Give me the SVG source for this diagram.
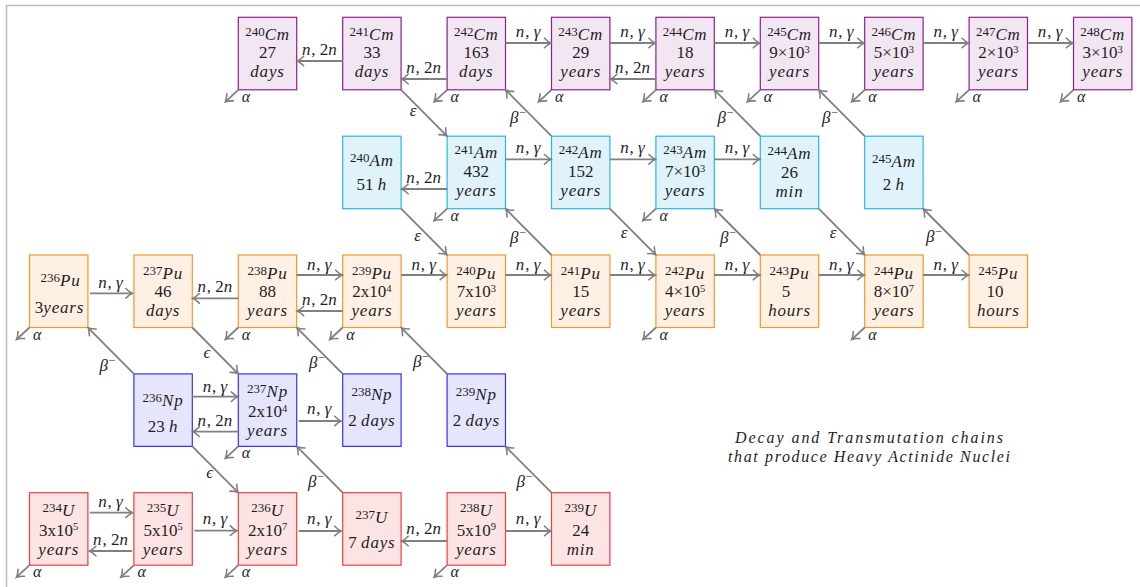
<svg xmlns="http://www.w3.org/2000/svg" width="1140" height="587" viewBox="0 0 1140 587">
<style>
text{font-family:"Liberation Serif","DejaVu Serif",serif;fill:#1e1e1e}
.t{font-size:17px;text-anchor:middle}
.i{font-style:italic;letter-spacing:0.8px}
.ms{font-size:13px;font-style:normal;letter-spacing:0}
.ex{font-size:10.5px}
.cm{fill:#f2e6f2;stroke:#8e1e8e;stroke-width:1.2}
.am{fill:#e0f3fa;stroke:#28b4eb;stroke-width:1.2}
.pu{fill:#fef1e4;stroke:#f7962a;stroke-width:1.2}
.np{fill:#e5e5fb;stroke:#3232ff;stroke-width:1.2}
.u{fill:#fde4e4;stroke:#f03c3c;stroke-width:1.2}
.c{stroke:#808080;stroke-width:1.8;fill:none;marker-end:url(#ah)}
.lb{font-size:17px;text-anchor:middle}
.al{font-size:16px;font-style:italic}
.bm{font-size:12px;font-style:normal}
.cap{font-size:16px;font-style:italic;text-anchor:middle}
</style>
<defs>
<marker id="ah" markerUnits="userSpaceOnUse" viewBox="-8 -6 10 12" markerWidth="10" markerHeight="12" refX="0" refY="0" orient="auto">
<path d="M-6.5,-4.8 Q-3,-1.2 0,0 Q-3,1.2 -6.5,4.8" fill="none" stroke="#808080" stroke-width="1.6" stroke-linecap="round"/>
</marker>
</defs>
<path d="M6.5,587 V5.5 H1140" fill="none" stroke="#bdbdbd" stroke-width="1.5"/>

<g id="cm240"><rect class="cm" x="238.3" y="17.3" width="58.4" height="72.5"/><text class="t"><tspan x="267.5" y="35.5" class="ms">240</tspan><tspan class="i" dy="4">Cm</tspan><tspan x="267.5" y="58.4">27</tspan><tspan x="267.5" y="77.3" class="i">days</tspan></text></g>
<g id="cm241"><rect class="cm" x="342.7" y="17.3" width="58.4" height="72.5"/><text class="t"><tspan x="371.9" y="35.5" class="ms">241</tspan><tspan class="i" dy="4">Cm</tspan><tspan x="371.9" y="58.4">33</tspan><tspan x="371.9" y="77.3" class="i">days</tspan></text></g>
<g id="cm242"><rect class="cm" x="447.1" y="17.3" width="58.4" height="72.5"/><text class="t"><tspan x="476.3" y="35.5" class="ms">242</tspan><tspan class="i" dy="4">Cm</tspan><tspan x="476.3" y="58.4">163</tspan><tspan x="476.3" y="77.3" class="i">days</tspan></text></g>
<g id="cm243"><rect class="cm" x="551.5" y="17.3" width="58.4" height="72.5"/><text class="t"><tspan x="580.7" y="35.5" class="ms">243</tspan><tspan class="i" dy="4">Cm</tspan><tspan x="580.7" y="58.4">29</tspan><tspan x="580.7" y="77.3" class="i">years</tspan></text></g>
<g id="cm244"><rect class="cm" x="655.9" y="17.3" width="58.4" height="72.5"/><text class="t"><tspan x="685.1" y="35.5" class="ms">244</tspan><tspan class="i" dy="4">Cm</tspan><tspan x="685.1" y="58.4">18</tspan><tspan x="685.1" y="77.3" class="i">years</tspan></text></g>
<g id="cm245"><rect class="cm" x="760.3" y="17.3" width="58.4" height="72.5"/><text class="t"><tspan x="789.5" y="35.5" class="ms">245</tspan><tspan class="i" dy="4">Cm</tspan><tspan x="789.5" y="58.4">9×10<tspan class="ex" dy="-5.5">3</tspan></tspan><tspan x="789.5" y="77.3" class="i">years</tspan></text></g>
<g id="cm246"><rect class="cm" x="864.7" y="17.3" width="58.4" height="72.5"/><text class="t"><tspan x="893.9" y="35.5" class="ms">246</tspan><tspan class="i" dy="4">Cm</tspan><tspan x="893.9" y="58.4">5×10<tspan class="ex" dy="-5.5">3</tspan></tspan><tspan x="893.9" y="77.3" class="i">years</tspan></text></g>
<g id="cm247"><rect class="cm" x="969.1" y="17.3" width="58.4" height="72.5"/><text class="t"><tspan x="998.3" y="35.5" class="ms">247</tspan><tspan class="i" dy="4">Cm</tspan><tspan x="998.3" y="58.4">2×10<tspan class="ex" dy="-5.5">3</tspan></tspan><tspan x="998.3" y="77.3" class="i">years</tspan></text></g>
<g id="cm248"><rect class="cm" x="1073.5" y="17.3" width="58.4" height="72.5"/><text class="t"><tspan x="1102.7" y="35.5" class="ms">248</tspan><tspan class="i" dy="4">Cm</tspan><tspan x="1102.7" y="58.4">3×10<tspan class="ex" dy="-5.5">3</tspan></tspan><tspan x="1102.7" y="77.3" class="i">years</tspan></text></g>

<g id="am240"><rect class="am" x="342.7" y="136.2" width="58.4" height="72.5"/><text class="t"><tspan x="371.9" y="161.7" class="ms">240</tspan><tspan class="i" dy="4">Am</tspan><tspan x="371.9" y="190.2">51 <tspan class="i">h</tspan></tspan></text></g>
<g id="am241"><rect class="am" x="447.1" y="136.2" width="58.4" height="72.5"/><text class="t"><tspan x="476.3" y="154.4" class="ms">241</tspan><tspan class="i" dy="4">Am</tspan><tspan x="476.3" y="177.3">432</tspan><tspan x="476.3" y="196.2" class="i">years</tspan></text></g>
<g id="am242"><rect class="am" x="551.5" y="136.2" width="58.4" height="72.5"/><text class="t"><tspan x="580.7" y="154.4" class="ms">242</tspan><tspan class="i" dy="4">Am</tspan><tspan x="580.7" y="177.3">152</tspan><tspan x="580.7" y="196.2" class="i">years</tspan></text></g>
<g id="am243"><rect class="am" x="655.9" y="136.2" width="58.4" height="72.5"/><text class="t"><tspan x="685.1" y="154.4" class="ms">243</tspan><tspan class="i" dy="4">Am</tspan><tspan x="685.1" y="177.3">7×10<tspan class="ex" dy="-5.5">3</tspan></tspan><tspan x="685.1" y="196.2" class="i">years</tspan></text></g>
<g id="am244"><rect class="am" x="760.3" y="136.2" width="58.4" height="72.5"/><text class="t"><tspan x="789.5" y="155" class="ms">244</tspan><tspan class="i" dy="4">Am</tspan><tspan x="789.5" y="178">26</tspan><tspan x="789.5" y="197.4" class="i">min</tspan></text></g>
<g id="am245"><rect class="am" x="864.7" y="136.2" width="58.4" height="72.5"/><text class="t"><tspan x="893.9" y="162.7" class="ms">245</tspan><tspan class="i" dy="4">Am</tspan><tspan x="893.9" y="190.2">2 <tspan class="i">h</tspan></tspan></text></g>

<g id="pu236"><rect class="pu" x="29.5" y="255" width="58.4" height="72.5"/><text class="t"><tspan x="60.5" y="282" class="ms">236</tspan><tspan class="i" dy="4">Pu</tspan><tspan x="59.5" y="312.7">3<tspan class="i">years</tspan></tspan></text></g>
<g id="pu237"><rect class="pu" x="133.9" y="255" width="58.4" height="72.5"/><text class="t"><tspan x="163.1" y="274.5" class="ms">237</tspan><tspan class="i" dy="4">Pu</tspan><tspan x="163.1" y="297.4">46</tspan><tspan x="163.1" y="316.3" class="i">days</tspan></text></g>
<g id="pu238"><rect class="pu" x="238.3" y="255" width="58.4" height="72.5"/><text class="t"><tspan x="267.5" y="274.5" class="ms">238</tspan><tspan class="i" dy="4">Pu</tspan><tspan x="267.5" y="297.4">88</tspan><tspan x="267.5" y="316.3" class="i">years</tspan></text></g>
<g id="pu239"><rect class="pu" x="342.7" y="255" width="58.4" height="72.5"/><text class="t"><tspan x="371.9" y="274.5" class="ms">239</tspan><tspan class="i" dy="4">Pu</tspan><tspan x="371.9" y="297.4">2x10<tspan class="ex" dy="-5.5">4</tspan></tspan><tspan x="371.9" y="316.3" class="i">years</tspan></text></g>
<g id="pu240"><rect class="pu" x="447.1" y="255" width="58.4" height="72.5"/><text class="t"><tspan x="476.3" y="274.5" class="ms">240</tspan><tspan class="i" dy="4">Pu</tspan><tspan x="476.3" y="297.4">7x10<tspan class="ex" dy="-5.5">3</tspan></tspan><tspan x="476.3" y="316.3" class="i">years</tspan></text></g>
<g id="pu241"><rect class="pu" x="551.5" y="255" width="58.4" height="72.5"/><text class="t"><tspan x="580.7" y="274.5" class="ms">241</tspan><tspan class="i" dy="4">Pu</tspan><tspan x="580.7" y="297.4">15</tspan><tspan x="580.7" y="316.3" class="i">years</tspan></text></g>
<g id="pu242"><rect class="pu" x="655.9" y="255" width="58.4" height="72.5"/><text class="t"><tspan x="685.1" y="274.5" class="ms">242</tspan><tspan class="i" dy="4">Pu</tspan><tspan x="685.1" y="297.4">4×10<tspan class="ex" dy="-5.5">5</tspan></tspan><tspan x="685.1" y="316.3" class="i">years</tspan></text></g>
<g id="pu243"><rect class="pu" x="760.3" y="255" width="58.4" height="72.5"/><text class="t"><tspan x="789.5" y="274.5" class="ms">243</tspan><tspan class="i" dy="4">Pu</tspan><tspan x="786" y="297.4">5</tspan><tspan x="789.5" y="316.3" class="i">hours</tspan></text></g>
<g id="pu244"><rect class="pu" x="864.7" y="255" width="58.4" height="72.5"/><text class="t"><tspan x="893.9" y="274.5" class="ms">244</tspan><tspan class="i" dy="4">Pu</tspan><tspan x="893.9" y="297.4">8×10<tspan class="ex" dy="-5.5">7</tspan></tspan><tspan x="893.9" y="316.3" class="i">years</tspan></text></g>
<g id="pu245"><rect class="pu" x="969.1" y="255" width="58.4" height="72.5"/><text class="t"><tspan x="998.3" y="274.5" class="ms">245</tspan><tspan class="i" dy="4">Pu</tspan><tspan x="995" y="297.4">10</tspan><tspan x="998.3" y="316.3" class="i">hours</tspan></text></g>

<g id="np236"><rect class="np" x="133.9" y="373.9" width="58.4" height="72.5"/><text class="t"><tspan x="163.1" y="401.9" class="ms">236</tspan><tspan class="i" dy="4">Np</tspan><tspan x="163.1" y="432.4">23 <tspan class="i">h</tspan></tspan></text></g>
<g id="np237"><rect class="np" x="238.3" y="373.9" width="58.4" height="72.5"/><text class="t"><tspan x="267.5" y="392.6" class="ms">237</tspan><tspan class="i" dy="4">Np</tspan><tspan x="267.5" y="417">2x10<tspan class="ex" dy="-5.5">4</tspan></tspan><tspan x="267.5" y="436" class="i">years</tspan></text></g>
<g id="np238"><rect class="np" x="342.7" y="373.9" width="58.4" height="72.5"/><text class="t"><tspan x="371.9" y="396.4" class="ms">238</tspan><tspan class="i" dy="4">Np</tspan><tspan x="371.9" y="425.9">2 <tspan class="i">days</tspan></tspan></text></g>
<g id="np239"><rect class="np" x="447.1" y="373.9" width="58.4" height="72.5"/><text class="t"><tspan x="476.3" y="396.4" class="ms">239</tspan><tspan class="i" dy="4">Np</tspan><tspan x="476.3" y="425.9">2 <tspan class="i">days</tspan></tspan></text></g>

<g id="u234"><rect class="u" x="29.5" y="492.7" width="58.4" height="72.5"/><text class="t"><tspan x="58.7" y="512.2" class="ms">234</tspan><tspan class="i" dy="4">U</tspan><tspan x="58.7" y="535.6">3x10<tspan class="ex" dy="-5.5">5</tspan></tspan><tspan x="58.7" y="554.5" class="i">years</tspan></text></g>
<g id="u235"><rect class="u" x="133.9" y="492.7" width="58.4" height="72.5"/><text class="t"><tspan x="163.1" y="512.2" class="ms">235</tspan><tspan class="i" dy="4">U</tspan><tspan x="163.1" y="535.6">5x10<tspan class="ex" dy="-5.5">5</tspan></tspan><tspan x="163.1" y="554.5" class="i">years</tspan></text></g>
<g id="u236"><rect class="u" x="238.3" y="492.7" width="58.4" height="72.5"/><text class="t"><tspan x="267.5" y="512.2" class="ms">236</tspan><tspan class="i" dy="4">U</tspan><tspan x="267.5" y="535.6">2x10<tspan class="ex" dy="-5.5">7</tspan></tspan><tspan x="267.5" y="554.5" class="i">years</tspan></text></g>
<g id="u237"><rect class="u" x="342.7" y="492.7" width="58.4" height="72.5"/><text class="t"><tspan x="371.9" y="518.7" class="ms">237</tspan><tspan class="i" dy="4">U</tspan><tspan x="371.9" y="548.3">7 <tspan class="i">days</tspan></tspan></text></g>
<g id="u238"><rect class="u" x="447.1" y="492.7" width="58.4" height="72.5"/><text class="t"><tspan x="476.3" y="512.2" class="ms">238</tspan><tspan class="i" dy="4">U</tspan><tspan x="476.3" y="535.6">5x10<tspan class="ex" dy="-5.5">9</tspan></tspan><tspan x="476.3" y="554.5" class="i">years</tspan></text></g>
<g id="u239"><rect class="u" x="551.5" y="492.7" width="58.4" height="72.5"/><text class="t"><tspan x="580.7" y="512.2" class="ms">239</tspan><tspan class="i" dy="4">U</tspan><tspan x="580.7" y="535.6">24</tspan><tspan x="580.7" y="554.5" class="i">min</tspan></text></g>

<g id="connectors">
<line class="c" x1="342.7" y1="61" x2="297.2" y2="61"/><text class="lb" x="319.7" y="54.5"><tspan class="i">n</tspan>, 2<tspan class="i">n</tspan></text>
<line class="c" x1="447.1" y1="79" x2="401.6" y2="79"/><text class="lb" x="424.1" y="72.5"><tspan class="i">n</tspan>, 2<tspan class="i">n</tspan></text>
<line class="c" x1="505.5" y1="43" x2="551" y2="43"/><text class="lb" x="528.5" y="36.5"><tspan class="i">n</tspan>, <tspan class="i">γ</tspan></text>
<line class="c" x1="609.9" y1="43" x2="655.4" y2="43"/><text class="lb" x="632.9" y="36.5"><tspan class="i">n</tspan>, <tspan class="i">γ</tspan></text>
<line class="c" x1="655.9" y1="79" x2="610.4" y2="79"/><text class="lb" x="632.9" y="72.5"><tspan class="i">n</tspan>, 2<tspan class="i">n</tspan></text>
<line class="c" x1="714.3" y1="43" x2="759.8" y2="43"/><text class="lb" x="737.3" y="36.5"><tspan class="i">n</tspan>, <tspan class="i">γ</tspan></text>
<line class="c" x1="818.7" y1="43" x2="864.2" y2="43"/><text class="lb" x="841.7" y="36.5"><tspan class="i">n</tspan>, <tspan class="i">γ</tspan></text>
<line class="c" x1="923.1" y1="43" x2="968.6" y2="43"/><text class="lb" x="946.1" y="36.5"><tspan class="i">n</tspan>, <tspan class="i">γ</tspan></text>
<line class="c" x1="1027.5" y1="43" x2="1073" y2="43"/><text class="lb" x="1050.5" y="36.5"><tspan class="i">n</tspan>, <tspan class="i">γ</tspan></text>
<line class="c" x1="238.3" y1="89.8" x2="225.3" y2="101.8"/><text class="al" x="241.8" y="101.8">α</text>
<line class="c" x1="447.1" y1="89.8" x2="434.1" y2="101.8"/><text class="al" x="450.6" y="101.8">α</text>
<line class="c" x1="551.5" y1="89.8" x2="538.5" y2="101.8"/><text class="al" x="555" y="101.8">α</text>
<line class="c" x1="655.9" y1="89.8" x2="642.9" y2="101.8"/><text class="al" x="659.4" y="101.8">α</text>
<line class="c" x1="760.3" y1="89.8" x2="747.3" y2="101.8"/><text class="al" x="763.8" y="101.8">α</text>
<line class="c" x1="864.7" y1="89.8" x2="851.7" y2="101.8"/><text class="al" x="868.2" y="101.8">α</text>
<line class="c" x1="969.1" y1="89.8" x2="956.1" y2="101.8"/><text class="al" x="972.6" y="101.8">α</text>
<line class="c" x1="1073.5" y1="89.8" x2="1060.5" y2="101.8"/><text class="al" x="1077" y="101.8">α</text>
<line class="c" x1="401.1" y1="89.8" x2="446.8" y2="135.9"/><text class="lb i" x="413.5" y="116">ε</text>
<line class="c" x1="551.5" y1="136.2" x2="505.8" y2="90.1"/><text class="lb" x="518" y="122.5"><tspan class="i">β</tspan><tspan class="bm" dy="-7">−</tspan></text>
<line class="c" x1="760.3" y1="136.2" x2="714.6" y2="90.1"/><text class="lb" x="725.5" y="122.5"><tspan class="i">β</tspan><tspan class="bm" dy="-7">−</tspan></text>
<line class="c" x1="864.7" y1="136.2" x2="819" y2="90.1"/><text class="lb" x="830" y="122.5"><tspan class="i">β</tspan><tspan class="bm" dy="-7">−</tspan></text>
<line class="c" x1="447.1" y1="189" x2="401.6" y2="189"/><text class="lb" x="424.1" y="183"><tspan class="i">n</tspan>, 2<tspan class="i">n</tspan></text>
<line class="c" x1="505.5" y1="159.3" x2="551" y2="159.3"/><text class="lb" x="528.5" y="153"><tspan class="i">n</tspan>, <tspan class="i">γ</tspan></text>
<line class="c" x1="609.9" y1="159.3" x2="655.4" y2="159.3"/><text class="lb" x="632.9" y="153"><tspan class="i">n</tspan>, <tspan class="i">γ</tspan></text>
<line class="c" x1="714.3" y1="159.3" x2="759.8" y2="159.3"/><text class="lb" x="737.3" y="153"><tspan class="i">n</tspan>, <tspan class="i">γ</tspan></text>
<line class="c" x1="447.1" y1="208.7" x2="434.1" y2="220.7"/><text class="al" x="450.6" y="220.7">α</text>
<line class="c" x1="655.9" y1="208.7" x2="642.9" y2="220.7"/><text class="al" x="659.4" y="220.7">α</text>
<line class="c" x1="401.1" y1="208.7" x2="446.8" y2="254.7"/><text class="lb i" x="418" y="241">ε</text>
<line class="c" x1="609.9" y1="208.7" x2="655.6" y2="254.7"/><text class="lb i" x="624.5" y="238">ε</text>
<line class="c" x1="818.7" y1="208.7" x2="864.4" y2="254.7"/><text class="lb i" x="833.5" y="238">ε</text>
<line class="c" x1="551.5" y1="255" x2="505.8" y2="209"/><text class="lb" x="518" y="243"><tspan class="i">β</tspan><tspan class="bm" dy="-7">−</tspan></text>
<line class="c" x1="760.3" y1="255" x2="714.6" y2="209"/><text class="lb" x="728" y="243"><tspan class="i">β</tspan><tspan class="bm" dy="-7">−</tspan></text>
<line class="c" x1="969.1" y1="255" x2="923.4" y2="209"/><text class="lb" x="934" y="241.5"><tspan class="i">β</tspan><tspan class="bm" dy="-7">−</tspan></text>
<line class="c" x1="89.9" y1="293.3" x2="132.4" y2="293.3"/><text class="lb" x="110.9" y="288"><tspan class="i">n</tspan>, <tspan class="i">γ</tspan></text>
<line class="c" x1="238.3" y1="298.3" x2="192.8" y2="298.3"/><text class="lb" x="215.3" y="292"><tspan class="i">n</tspan>, 2<tspan class="i">n</tspan></text>
<line class="c" x1="296.7" y1="275" x2="342.2" y2="275"/><text class="lb" x="319.7" y="269.5"><tspan class="i">n</tspan>, <tspan class="i">γ</tspan></text>
<line class="c" x1="342.7" y1="311" x2="297.2" y2="311"/><text class="lb" x="319.7" y="305"><tspan class="i">n</tspan>, 2<tspan class="i">n</tspan></text>
<line class="c" x1="401.1" y1="275" x2="446.6" y2="275"/><text class="lb" x="424.1" y="269.5"><tspan class="i">n</tspan>, <tspan class="i">γ</tspan></text>
<line class="c" x1="505.5" y1="275" x2="551" y2="275"/><text class="lb" x="528.5" y="269.5"><tspan class="i">n</tspan>, <tspan class="i">γ</tspan></text>
<line class="c" x1="609.9" y1="275" x2="655.4" y2="275"/><text class="lb" x="632.9" y="269.5"><tspan class="i">n</tspan>, <tspan class="i">γ</tspan></text>
<line class="c" x1="714.3" y1="275" x2="759.8" y2="275"/><text class="lb" x="737.3" y="269.5"><tspan class="i">n</tspan>, <tspan class="i">γ</tspan></text>
<line class="c" x1="818.7" y1="275" x2="864.2" y2="275"/><text class="lb" x="841.7" y="269.5"><tspan class="i">n</tspan>, <tspan class="i">γ</tspan></text>
<line class="c" x1="923.1" y1="275" x2="968.6" y2="275"/><text class="lb" x="946.1" y="269.5"><tspan class="i">n</tspan>, <tspan class="i">γ</tspan></text>
<line class="c" x1="29.5" y1="327.5" x2="16.5" y2="339.5"/><text class="al" x="33" y="339.5">α</text>
<line class="c" x1="238.3" y1="327.5" x2="225.3" y2="339.5"/><text class="al" x="241.8" y="339.5">α</text>
<line class="c" x1="342.7" y1="327.5" x2="329.7" y2="339.5"/><text class="al" x="346.2" y="339.5">α</text>
<line class="c" x1="655.9" y1="327.5" x2="642.9" y2="339.5"/><text class="al" x="659.4" y="339.5">α</text>
<line class="c" x1="864.7" y1="327.5" x2="851.7" y2="339.5"/><text class="al" x="868.2" y="339.5">α</text>
<line class="c" x1="192.3" y1="327.5" x2="238" y2="373.6"/><text class="lb i" x="207.3" y="358">ϵ</text>
<line class="c" x1="133.9" y1="373.9" x2="88.2" y2="327.8"/><text class="lb" x="107.5" y="371"><tspan class="i">β</tspan><tspan class="bm" dy="-7">−</tspan></text>
<line class="c" x1="342.7" y1="373.9" x2="297" y2="327.8"/><text class="lb" x="317" y="367.5"><tspan class="i">β</tspan><tspan class="bm" dy="-7">−</tspan></text>
<line class="c" x1="447.1" y1="373.9" x2="401.4" y2="327.8"/><text class="lb" x="421" y="367"><tspan class="i">β</tspan><tspan class="bm" dy="-7">−</tspan></text>
<line class="c" x1="192.3" y1="396.7" x2="237.8" y2="396.7"/><text class="lb" x="215.3" y="392"><tspan class="i">n</tspan>, <tspan class="i">γ</tspan></text>
<line class="c" x1="238.3" y1="431.7" x2="192.8" y2="431.7"/><text class="lb" x="215.3" y="426"><tspan class="i">n</tspan>, 2<tspan class="i">n</tspan></text>
<line class="c" x1="298.7" y1="421" x2="341.2" y2="421"/><text class="lb" x="319.7" y="414"><tspan class="i">n</tspan>, <tspan class="i">γ</tspan></text>
<line class="c" x1="238.3" y1="446.4" x2="225.3" y2="458.4"/><text class="al" x="241.8" y="458.4">α</text>
<line class="c" x1="192.3" y1="446.4" x2="238" y2="492.4"/><text class="lb i" x="210" y="478">ϵ</text>
<line class="c" x1="342.7" y1="492.7" x2="297" y2="446.7"/><text class="lb" x="316" y="487"><tspan class="i">β</tspan><tspan class="bm" dy="-7">−</tspan></text>
<line class="c" x1="551.5" y1="492.7" x2="505.8" y2="446.7"/><text class="lb" x="524.5" y="487"><tspan class="i">β</tspan><tspan class="bm" dy="-7">−</tspan></text>
<line class="c" x1="89.9" y1="512.7" x2="132.4" y2="512.7"/><text class="lb" x="110.9" y="507"><tspan class="i">n</tspan>, <tspan class="i">γ</tspan></text>
<line class="c" x1="131.9" y1="551" x2="89.4" y2="551"/><text class="lb" x="110.9" y="544.5"><tspan class="i">n</tspan>, 2<tspan class="i">n</tspan></text>
<line class="c" x1="194.3" y1="530.7" x2="236.8" y2="530.7"/><text class="lb" x="215.3" y="524"><tspan class="i">n</tspan>, <tspan class="i">γ</tspan></text>
<line class="c" x1="298.7" y1="531" x2="341.2" y2="531"/><text class="lb" x="319.7" y="524"><tspan class="i">n</tspan>, <tspan class="i">γ</tspan></text>
<line class="c" x1="447.1" y1="541" x2="401.6" y2="541"/><text class="lb" x="424.1" y="534"><tspan class="i">n</tspan>, 2<tspan class="i">n</tspan></text>
<line class="c" x1="505.5" y1="531" x2="551" y2="531"/><text class="lb" x="528.5" y="524"><tspan class="i">n</tspan>, <tspan class="i">γ</tspan></text>
<line class="c" x1="29.5" y1="565.2" x2="16.5" y2="577.2"/><text class="al" x="33" y="577.2">α</text>
<line class="c" x1="133.9" y1="565.2" x2="120.9" y2="577.2"/><text class="al" x="137.4" y="577.2">α</text>
<line class="c" x1="238.3" y1="565.2" x2="225.3" y2="577.2"/><text class="al" x="241.8" y="577.2">α</text>
<line class="c" x1="447.1" y1="565.2" x2="434.1" y2="577.2"/><text class="al" x="450.6" y="577.2">α</text>
</g>

<g id="caption">
<text class="cap"><tspan x="869" y="443" textLength="268" lengthAdjust="spacing">Decay and Transmutation chains</tspan><tspan x="869" y="461.5" textLength="282" lengthAdjust="spacing">that produce Heavy Actinide Nuclei</tspan></text>
</g>
</svg>
